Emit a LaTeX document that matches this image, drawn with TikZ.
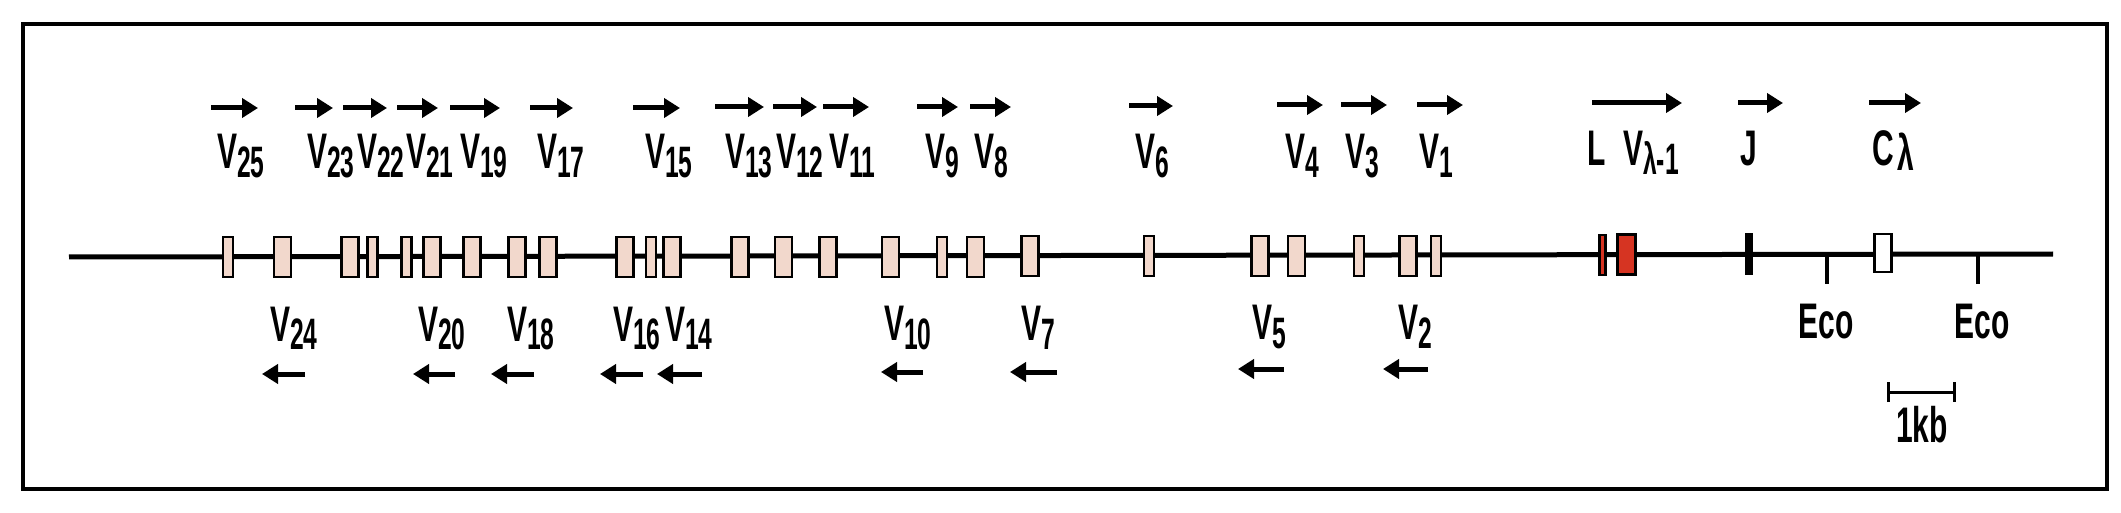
\documentclass[tikz,border=0pt]{standalone}
\usepackage{fontspec}
\usepackage{tikz}
\usetikzlibrary{arrows.meta,positioning}
\newfontfamily\genefont{Liberation Sans}[FakeStretch=0.6]
\newfontfamily\subfont{Liberation Sans}[FakeStretch=0.56]
\definecolor{segpink}{RGB}{242,216,204}
\definecolor{segred}{RGB}{214,52,34}
\newcommand{\vseg}[1]{V\lower9pt\hbox{\subfont\bfseries\fontsize{44}{44}\selectfont #1}}

\begin{document}
\begin{tikzpicture}[x=1pt, y=-1pt,
    lbl/.style={font=\genefont\bfseries\fontsize{50}{50}\selectfont, inner sep=0pt, anchor=base west},
    seg/.style={draw, line width=2.6pt, fill=segpink, inner sep=0pt, minimum height=40pt},
    segwide/.style={seg, minimum width=17pt},
    segnarrow/.style={seg, minimum width=10pt},
    fwd/.style={line width=5pt, -{Triangle[length=16pt,width=19pt]}}]
    \useasboundingbox (0,0) rectangle (2121,513);
    \draw[line width=3.2pt] (23,24) rectangle (2107,489);

    % chromosome
    \coordinate (chrL) at (69,257);
    \coordinate (chrR) at (2053,254);
    \draw[line width=5pt] (chrL) -- (chrR);

    % V segments
    \node[segnarrow] (v25) at (228,257) {};
    \node[segwide]   (v24) at (282.5,257) {};
    \node[segwide]   (v23) at (350,257) {};
    \node[segnarrow] (v22) at (372.5,257) {};
    \node[segnarrow] (v21) at (406.5,257) {};
    \node[segwide]   (v20) at (432,257) {};
    \node[segwide]   (v19) at (472,257) {};
    \node[segwide]   (v18) at (517,257) {};
    \node[segwide]   (v17) at (548,257) {};
    \node[segwide]   (v16) at (625,257) {};
    \node[segnarrow] (v15) at (651,257) {};
    \node[segwide]   (v14) at (672,257) {};
    \node[segwide]   (v13) at (740,257) {};
    \node[segwide]   (v12) at (783.5,257) {};
    \node[segwide]   (v11) at (828,257) {};
    \node[segwide]   (v10) at (890.5,257) {};
    \node[segnarrow] (v9)  at (942,257) {};
    \node[segwide]   (v8)  at (975.5,257) {};
    \node[segwide]   (v7)  at (1030,256) {};
    \node[segnarrow] (v6)  at (1149,256) {};
    \node[segwide]   (v5)  at (1260,256) {};
    \node[segwide]   (v4)  at (1296.5,256) {};
    \node[segnarrow] (v3)  at (1359,256) {};
    \node[segwide]   (v2)  at (1408,256) {};
    \node[segnarrow] (v1)  at (1436,256) {};

    % L V J C
    \node[seg, fill=segred, minimum width=6pt] (lseg) at (1602.5,255) {};
    \node[seg, fill=segred, minimum width=18pt] (vlseg) at (1626.5,254.5) {};
    \node[fill=black, inner sep=0pt, minimum width=8pt, minimum height=42pt] (jseg) at (1748.5,254) {};
    \node[seg, fill=white, minimum width=17pt, minimum height=38pt] (cseg) at (1883,253) {};

    % EcoRI sites
    \coordinate (eco1a) at (1827,254);
    \coordinate (eco1b) at (1827,284);
    \draw[line width=4pt] (eco1a) -- (eco1b);
    \coordinate (eco2a) at (1978,254);
    \coordinate (eco2b) at (1978,284);
    \draw[line width=4pt] (eco2a) -- (eco2b);
    \node[lbl, anchor=base] (eco1) at (1826,338) {Eco};
    \node[lbl, anchor=base] (eco2) at (1982,338) {Eco};

    % scale
    \coordinate (kbL) at (1887,392);
    \coordinate (kbR) at (1956,392);
    \draw[line width=3pt, {Bar[width=20pt]}-{Bar[width=20pt]}] (kbL) -- (kbR);
    \node[lbl, anchor=base] (kb) at (1922,442) {1kb};

    % upper labels
    \node[lbl] (t25) at (217,169) {\vseg{25}};
    \node[lbl] (t23) at (307,169) {\vseg{23}};
    \node[lbl] (t22) at (357,169) {\vseg{22}};
    \node[lbl] (t21) at (406,169) {\vseg{21}};
    \node[lbl] (t19) at (460,169) {\vseg{19}};
    \node[lbl] (t17) at (537,169) {\vseg{17}};
    \node[lbl] (t15) at (645,169) {\vseg{15}};
    \node[lbl] (t13) at (725,169) {\vseg{13}};
    \node[lbl] (t12) at (776,169) {\vseg{12}};
    \node[lbl] (t11) at (829,169) {\vseg{11}};
    \node[lbl] (t9)  at (925,169) {\vseg{9}};
    \node[lbl] (t8)  at (974,169) {\vseg{8}};
    \node[lbl] (t6)  at (1135,169) {\vseg{6}};
    \node[lbl] (t4)  at (1285,169) {\vseg{4}};
    \node[lbl] (t3)  at (1345,169) {\vseg{3}};
    \node[lbl] (t1)  at (1419,169) {\vseg{1}};
    \node[lbl] (tl)  at (1587,166) {L};
    \node[lbl] (tvl) at (1623,166) {\vseg{λ-1}};
    \node[lbl] (tj)  at (1740,166) {J};
    \node[lbl] (tc)  at (1872,166) {C\kern4pt\lower5pt\hbox{λ}};

    % lower labels
    \node[lbl] (b24) at (270,341) {\vseg{24}};
    \node[lbl] (b20) at (418,341) {\vseg{20}};
    \node[lbl] (b18) at (507,341) {\vseg{18}};
    \node[lbl] (b16) at (613,341) {\vseg{16}};
    \node[lbl] (b14) at (665,341) {\vseg{14}};
    \node[lbl] (b10) at (884,340) {\vseg{10}};
    \node[lbl] (b7)  at (1021,340) {\vseg{7}};
    \node[lbl] (b5)  at (1252,339) {\vseg{5}};
    \node[lbl] (b2)  at (1398,339) {\vseg{2}};

    % transcription direction
    \draw[fwd] (211,108) -- (258,108);
    \draw[fwd] (295,108) -- (333,108);
    \draw[fwd] (343,108) -- (387,108);
    \draw[fwd] (397,108) -- (438,108);
    \draw[fwd] (450,108) -- (500,108);
    \draw[fwd] (530,108) -- (573,108);
    \draw[fwd] (633,108) -- (680,108);
    \draw[fwd] (715,107) -- (764,107);
    \draw[fwd] (773,107) -- (817,107);
    \draw[fwd] (823,107) -- (869,107);
    \draw[fwd] (917,107) -- (958,107);
    \draw[fwd] (970,107) -- (1011,107);
    \draw[fwd] (1129,106) -- (1173,106);
    \draw[fwd] (1277,105) -- (1323,105);
    \draw[fwd] (1341,105) -- (1387,105);
    \draw[fwd] (1417,105) -- (1463,105);
    \draw[fwd] (1592,103) -- (1682,103);
    \draw[fwd] (1738,103) -- (1783,103);
    \draw[fwd] (1869,103) -- (1921,103);

    \draw[fwd] (305,374) -- (262,374);
    \draw[fwd] (455,374) -- (413,374);
    \draw[fwd] (534,374) -- (491,374);
    \draw[fwd] (643,374) -- (600,374);
    \draw[fwd] (702,374) -- (657,374);
    \draw[fwd] (923,372) -- (881,372);
    \draw[fwd] (1057,372) -- (1010,372);
    \draw[fwd] (1284,369) -- (1238,369);
    \draw[fwd] (1428,369) -- (1383,369);
\end{tikzpicture}
\end{document}
